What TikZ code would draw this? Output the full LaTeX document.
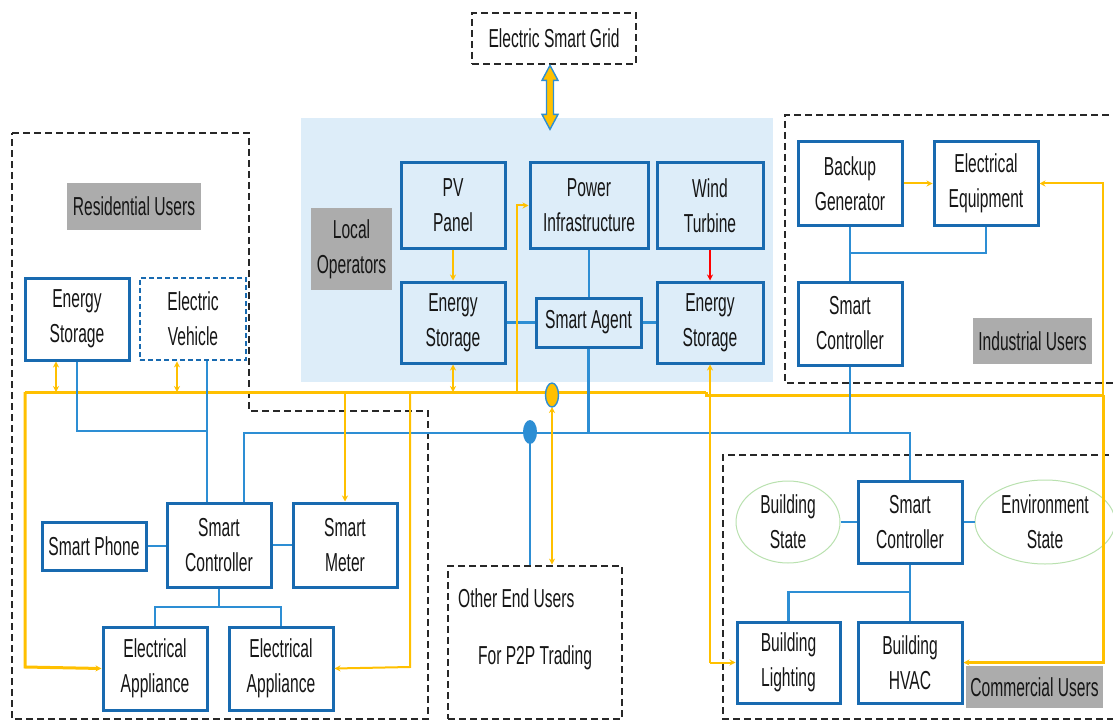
\documentclass[tikz,border=0pt]{standalone}
\usepackage{fontspec}
\setmainfont{Liberation Sans}[FakeStretch=0.6]
\usetikzlibrary{arrows.meta,calc,shapes.geometric}

\definecolor{boxblue}{RGB}{24,106,176}
\definecolor{lineblue}{RGB}{45,142,212}
\definecolor{gold}{RGB}{255,192,0}
\definecolor{frame}{RGB}{40,40,40}
\definecolor{bgblue}{RGB}{221,237,249}
\definecolor{labelgray}{RGB}{172,172,172}
\definecolor{ellgreen}{RGB}{185,225,175}
\definecolor{ink}{RGB}{22,22,22}

\tikzset{
  txt/.style={font=\fontsize{26}{35}\selectfont, text=ink, align=center, inner sep=0pt},
  ubox/.style={txt, draw=boxblue, line width=3pt, fill=white},
  lbox/.style={txt, draw=boxblue, line width=3pt},
  evbox/.style={txt, draw=boxblue, line width=2.8pt, dash pattern=on 5pt off 3pt, fill=white},
  glabel/.style={txt, fill=labelgray},
  oval/.style={txt, ellipse, draw=ellgreen, line width=1pt, fill=white},
  region/.style={draw=frame, line width=2.8pt, dash pattern=on 7pt off 4pt},
  bl/.style={draw=lineblue, line width=2.2pt},
  blbus/.style={draw=lineblue, line width=2.8pt},
  yl/.style={draw=gold, line width=2pt},
  ybus/.style={draw=gold, line width=3pt},
  tip/.style={-{Stealth[length=6pt,width=6pt]}},
  tips/.style={{Stealth[length=6pt,width=6pt]}-{Stealth[length=6pt,width=6pt]}},
  rtip/.style={{Stealth[length=6pt,width=6pt]}-},
}

\begin{document}
\begin{tikzpicture}[x=1pt,y=-1pt]
\useasboundingbox (0,0) rectangle (1113,722);
\clip (0,0) rectangle (1113,722);

% local operators area
\node[fill=bgblue, minimum width=472, minimum height=264, inner sep=0] (localbg) at (537,250) {};

% dashed user regions
\draw[region] (12,133) -- (249,133) -- (249,411) -- (428,411) -- (428,719) -- (12,719) -- cycle;
\draw[region] (1120,115) -- (785,115) -- (785,383) -- (1120,383);
\draw[region] (1120,455) -- (723,455) -- (723,719) -- (1120,719);
\node[region, minimum width=174, minimum height=153, inner sep=0] (oeu) at (535,642.5) {};
\node[txt, anchor=west] (oeut) at (458,598) {Other End Users};
\node[txt] (p2p) at (535,658) {For P2P Trading};

% grid
\node[txt, region, minimum width=164, minimum height=51] (grid) at (554,38.5) {Electric Smart Grid};

% group labels
\node[glabel, minimum width=134, minimum height=47] (resl) at (134,206.5) {Residential Users};
\node[glabel, minimum width=81, minimum height=82] (lopl) at (351.5,249) {Local\\Operators};
\node[glabel, minimum width=119, minimum height=46] (indl) at (1032.5,341) {Industrial Users};
\node[glabel, minimum width=137, minimum height=42] (coml) at (1034.5,687) {Commercial Users};

% ---------- bus coordinates ----------
\coordinate (yL) at (25,392);
\coordinate (yJ) at (706,392);
\coordinate (yR) at (1103,395);
\coordinate (bL) at (244,433);
\coordinate (bR) at (910,433);

% ---------- yellow power lines ----------
\draw[ybus] (yJ) -- (706,395) -- (yR);
\draw[ybus] (yJ) -- (yL);

% ---------- blue data lines ----------
\draw[blbus] (244,503) -- (bL) -- (bR) -- (910,481);

% residential
\node[ubox, minimum width=104, minimum height=82] (esr) at (77,319) {Energy\\Storage};
\node[evbox, minimum width=106, minimum height=82] (ev) at (193,319) {Electric\\Vehicle};
\node[ubox, minimum width=104, minimum height=48] (sp) at (94,546) {Smart Phone};
\node[ubox, minimum width=104, minimum height=84] (rsc) at (219,545) {Smart\\Controller};
\node[ubox, minimum width=104, minimum height=84] (sm) at (345,545) {Smart\\Meter};
\node[ubox, minimum width=104, minimum height=83] (ea1) at (155,668.5) {Electrical\\Appliance};
\node[ubox, minimum width=104, minimum height=83] (ea2) at (281,668.5) {Electrical\\Appliance};

% local operators
\node[lbox, minimum width=104, minimum height=85] (pv) at (453,205.5) {PV\\Panel};
\node[lbox, minimum width=118, minimum height=85] (pinf) at (589,205.5) {Power\\Infrastructure};
\node[lbox, minimum width=106, minimum height=85] (wind) at (710,205.5) {Wind\\Turbine};
\node[lbox, minimum width=104, minimum height=81] (lesl) at (453,322.5) {Energy\\Storage};
\node[lbox, minimum width=105, minimum height=49] (sa) at (588.5,322.5) {Smart Agent};
\node[lbox, minimum width=106, minimum height=81] (lesr) at (710,322.5) {Energy\\Storage};

% industrial
\node[ubox, minimum width=104, minimum height=83] (bg) at (850,183.5) {Backup\\Generator};
\node[ubox, minimum width=104, minimum height=83] (eeq) at (986,183.5) {Electrical\\Equipment};
\node[ubox, minimum width=104, minimum height=83] (isc) at (850,323.5) {Smart\\Controller};

% commercial
\node[oval, minimum width=104, minimum height=82, inner sep=0] (bst) at (788,522) {Building\\State};
\node[ubox, minimum width=104, minimum height=82] (csc) at (910,522) {Smart\\Controller};
\node[oval, minimum width=140, minimum height=84, inner sep=0] (est) at (1045,522) {Environment\\State};
\node[ubox, minimum width=103, minimum height=81] (blt) at (788.5,662.5) {Building\\Lighting};
\node[ubox, minimum width=104, minimum height=81] (hvac) at (910,662.5) {Building\\HVAC};

% residential wiring
\draw[bl] (esr.south) |- (207,431);
\draw[bl] (ev.south -| 207,0) -- (rsc.north -| 207,0);
\draw[bl] (sp.east) -- (sp.east -| rsc.west);
\draw[bl] (rsc.east) -- (sm.west);
\draw[bl] (rsc.south) -- (rsc.south |- 0,607);
\draw[bl] (ea1.north) |- (0,607 -| rsc.south) -| (ea2.north);

% local wiring
\draw[bl] (pinf.south) -- (pinf.south |- sa.north);
\draw[bl] (lesl.east) -- (sa.west);
\draw[bl] (sa.east) -- (lesr.west);
\draw[bl] (sa.south) -- (sa.south |- bL);
\draw[yl, tip] (pv.south) -- (lesl.north);
\draw[draw=red, line width=1.6pt, tip] (wind.south) -- (lesr.north);

% industrial wiring
\draw[bl] (bg.south) -- (isc.north);
\draw[bl] (eeq.south) |- (850,253);
\draw[bl] (isc.south) -- (isc.south |- bR);
\draw[yl, tip] (bg.east) -- (eeq.west);

% commercial wiring
\draw[bl] (bst.east) -- (csc.west);
\draw[bl] (csc.east) -- (est.west);
\draw[bl] (csc.south) -- (hvac.north);
\draw[bl] (blt.north) |- (csc.south |- 0,592);

% yellow branches
\draw[yl, tips] (esr.south -| 56,0) -- (56,392);
\draw[yl, tips] (ev.south -| 177,0) -- (177,392);
\draw[yl, tip] (345,392) -- (sm.north);
\draw[ybus, tip] (yL) -- (25,667) -- (ea1.west);
\draw[yl, tip] (410,392) -- (410,667) -- (ea2.east);
\draw[yl, tips] (lesl.south) -- (453,392);
\draw[yl, tip] (517,392) -- (517,205.5) -- (pinf.west);
\draw[yl, rtip] (lesr.south) -- (lesr.south |- blt.west);
\draw[yl, tip] (lesr.south |- blt.west) -- (blt.west);
\draw[yl, tip] (1103,395) -- (1103,183.5) -- (eeq.east);
\draw[ybus, tip] (1103,395) -- (1103,662.5) -- (hvac.east);

% peer-to-peer trading links
\draw[yl, tips] (552,407) -- (oeu.north -| 552,0);
\fill[gold, draw=lineblue, line width=1.4pt] (552,395) ellipse [x radius=6.5, y radius=12];
\draw[bl] (530,432) -- (oeu.north -| 530,0);
\fill[lineblue] (530,432) ellipse [x radius=7, y radius=12];

% grid exchange arrow
\draw[fill=gold, draw=lineblue, line width=1.4pt, line join=miter]
  ($(grid.south)+(-4,0)$) -- ++(8,15) -- ++(-4.5,0) -- ++(0,34) -- ++(4.5,0)
  -- ++(-8,15) -- ++(-8,-15) -- ++(4.5,0) -- ++(0,-34) -- ++(-4.5,0) -- cycle;
\end{tikzpicture}
\end{document}
